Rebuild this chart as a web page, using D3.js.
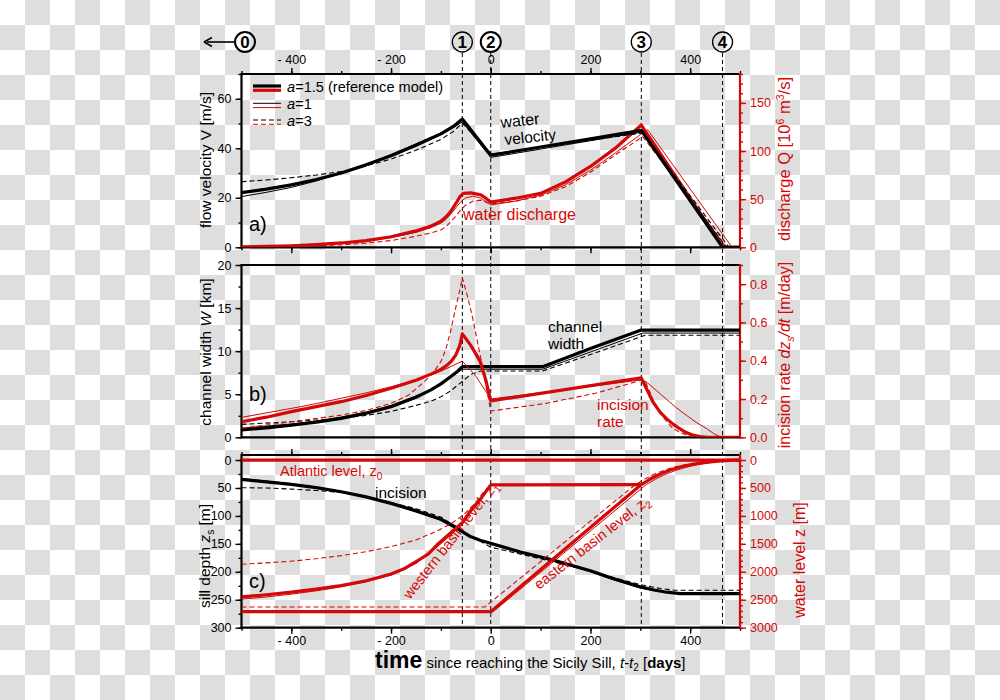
<!DOCTYPE html>
<html><head><meta charset="utf-8">
<script src="https://cdn.jsdelivr.net/npm/d3@7"></script>
<style>body{margin:0;background:#fff} text{font-family:"Liberation Sans",Arial,sans-serif}</style>
</head><body><svg id="c" width="1000" height="700"></svg>
<script>
// ---------- DATA (day, value) ----------
const dayTicks = [-400, -200, 0, 200, 400];
const eventDays = [-57, 0, 302, 465];
const eventLabels = ["1", "2", "3", "4"];
const velTicks = [0, 20, 40, 60];
const qTicks = [0, 50, 100, 150];
const widthTicks = [0, 5, 10, 15, 20];
const rateTicks = [0, 0.2, 0.4, 0.6, 0.8];
const depthTicks = [0, 50, 100, 150, 200, 250, 300];
const levelTicks = [0, 500, 1000, 1500, 2000, 2500, 3000];

// panel a: flow velocity [m/s]
const velRef = [[-500,22.1],[-450,23.5],[-400,25.2],[-350,27.4],[-300,30],[-250,33.3],[-200,37],[-150,41.2],[-100,45.8],[-75,48.8],[-57,51.8],[0,37.2],[100,40.5],[200,43.8],[302,47.2],[465,0],[500,0]];
const velA1 = [[-500,20.5],[-450,22.2],[-400,24.2],[-350,26.8],[-300,29.8],[-250,33.4],[-200,37.5],[-150,41.8],[-100,46.2],[-75,48.5],[-57,50.6],[0,36.3],[302,46.5],[472,0],[500,0]];
const velA3 = [[-500,26.5],[-450,27.2],[-400,28.1],[-350,29.2],[-300,30.6],[-250,32.9],[-200,35.6],[-150,39.2],[-100,43.6],[-75,46.8],[-57,50.2],[0,37.6],[305,46.2],[478,0],[500,0]];
// panel a: discharge [10^6 m3/s]
const qRef = [[-500,0.5],[-450,0.9],[-400,1.6],[-350,2.8],[-300,4.5],[-250,7],[-200,11],[-150,17],[-120,22],[-100,27],[-90,31.5],[-80,37.5],[-70,45.5],[-62,52.5],[-55,56],[-40,56.5],[-20,54.5],[-10,51],[0,47],[50,51],[100,56],[150,68],[200,84],[250,103],[302,127],[466,0],[500,0]];
const qA1 = [[-500,0.3],[-400,1.2],[-300,3.8],[-250,6.2],[-200,10],[-150,15.5],[-120,20.5],[-100,25],[-90,29],[-80,34.5],[-70,41],[-60,47.5],[-50,51.5],[-35,53],[-20,51],[0,44],[50,48],[100,54],[150,65],[200,80],[250,98],[300,117],[315,122],[484,0],[500,0]];
const qA3 = [[-500,0.2],[-400,0.8],[-300,2.5],[-250,4.3],[-200,7],[-150,11.5],[-120,14.8],[-100,18],[-90,21.5],[-80,26.5],[-70,32.5],[-60,39],[-50,44],[-35,48],[-20,49],[0,45],[50,48],[100,53],[150,63],[200,78],[250,96],[305,115],[474,0],[500,0]];

// panel b: channel width [km]
const wRef = [[-500,0.85],[-450,1.1],[-400,1.4],[-350,1.75],[-300,2.2],[-250,2.8],[-200,3.55],[-150,4.65],[-120,5.5],[-100,6.2],[-80,7.05],[-67,7.65],[-57,8.2],[104,8.2],[200,10.3],[302,12.45],[500,12.45]];
const wA1 = [[-500,1.05],[-450,1.3],[-400,1.55],[-350,1.9],[-300,2.35],[-250,2.9],[-200,3.7],[-150,4.8],[-120,5.5],[-100,6.15],[-80,6.95],[-57,7.9],[104,7.9],[200,9.9],[305,12.1],[500,12.1]];
const wA3 = [[-500,1.5],[-450,1.65],[-400,1.8],[-350,2.0],[-300,2.2],[-250,2.55],[-200,3.0],[-150,3.7],[-120,4.2],[-100,4.7],[-80,5.4],[-57,6.5],[-40,7.3],[-20,7.7],[104,7.7],[200,9.6],[310,11.85],[500,11.85]];
// panel b: incision rate [m/day]
const rateRef = [[-500,0.081],[-450,0.105],[-400,0.134],[-350,0.16],[-300,0.186],[-250,0.218],[-200,0.256],[-150,0.298],[-120,0.33],[-100,0.355],[-90,0.372],[-80,0.395],[-70,0.43],[-62,0.48],[-57,0.54],[-40,0.48],[-21,0.395],[-10,0.3],[0,0.19],[302,0.31],[315,0.24],[325,0.186],[340,0.13],[352,0.099],[365,0.07],[378,0.047],[392,0.025],[405,0.012],[420,0.004],[435,0],[500,0]];
const rateA1 = [[-500,0.104],[-400,0.151],[-350,0.176],[-300,0.204],[-250,0.232],[-200,0.264],[-150,0.3],[-120,0.325],[-100,0.345],[-80,0.37],[-57,0.398],[-30,0.32],[0,0.2],[302,0.3],[312,0.29],[332,0.245],[352,0.2],[372,0.155],[392,0.116],[412,0.078],[432,0.047],[447,0.02],[459,0.004],[466,0],[500,0]];
const rateA3 = [[-500,0.047],[-400,0.081],[-300,0.116],[-250,0.14],[-200,0.177],[-165,0.22],[-133,0.29],[-115,0.34],[-100,0.395],[-90,0.46],[-80,0.56],[-70,0.68],[-62,0.77],[-57,0.833],[-46,0.73],[-36,0.62],[-26,0.49],[-16,0.36],[0,0.137],[110,0.177],[210,0.23],[305,0.3],[312,0.28],[325,0.2],[338,0.134],[352,0.085],[365,0.047],[380,0.025],[392,0.012],[410,0],[500,0]];

// panel c: water levels [m]
const atlantic = [[-500,0],[500,0]];
const westRef = [[-500,2450],[-450,2410],[-400,2365],[-350,2310],[-300,2245],[-250,2160],[-200,2040],[-175,1950],[-150,1820],[-125,1680],[-108,1520],[-80,1300],[-57,1120],[-40,900],[-20,690],[0,445],[302,440]];
const westA1 = [[-500,2490],[-450,2450],[-400,2400],[-350,2340],[-300,2270],[-250,2180],[-200,2060],[-150,1850],[-108,1560],[-80,1340],[-57,1150],[-40,940],[-20,720],[0,445],[302,440]];
const westA3 = [[-500,1865],[-450,1840],[-400,1810],[-350,1765],[-300,1710],[-250,1640],[-200,1550],[-150,1430],[-108,1270],[-80,1140],[-55,985],[-30,760],[-15,580],[0,445]];
const eastRef = [[-500,2713],[0,2713],[302,438],[320,340],[340,250],[360,180],[380,125],[400,85],[420,55],[440,32],[460,16],[480,6],[500,0]];
const eastA1 = [[-500,2713],[5,2713],[312,440],[330,345],[350,258],[370,190],[390,135],[410,92],[430,60],[450,36],[470,18],[490,6],[500,2]];
const eastA3 = [[-500,2630],[-12,2630],[290,440],[310,335],[330,245],[350,178],[370,123],[390,83],[410,53],[430,30],[450,15],[470,5],[500,0]];
// panel c: sill depth [m]
const sillRef = [[-500,34.6],[-450,39],[-400,43.5],[-350,49.5],[-300,56.7],[-250,66],[-200,77.5],[-150,91],[-100,106],[-75,118],[-57,128],[-41,137],[-20,144],[0,149],[58,164],[125,179],[200,198],[245,212],[300,227],[330,233],[353,236.5],[380,239],[500,239]];
const sillA1 = [[-500,33],[-400,42.5],[-300,56],[-200,78],[-150,92],[-100,108],[-57,130],[0,151],[58,166],[125,181],[200,200],[245,214],[300,229],[330,234],[360,237],[390,238],[500,238]];
const sillA3 = [[-500,49.5],[-450,50],[-400,52],[-350,54.5],[-300,58],[-250,66],[-200,76],[-150,87],[-100,102],[-57,127],[0,156],[58,168],[125,182],[200,198],[245,210],[300,223],[340,230],[370,233],[500,233]];

// ---------- DRAWING ----------
const RED = "#d40808";
const svg = d3.select("#c");
const defs = svg.append("defs");
const pat = defs.append("pattern").attr("id","chk").attr("width",50).attr("height",50).attr("patternUnits","userSpaceOnUse");
pat.append("rect").attr("width",50).attr("height",50).attr("fill","#ffffff");
pat.append("rect").attr("x",25).attr("y",0).attr("width",25).attr("height",25).attr("fill","#dedede");
pat.append("rect").attr("x",0).attr("y",25).attr("width",25).attr("height",25).attr("fill","#dedede");
svg.append("rect").attr("width",1000).attr("height",700).attr("fill","url(#chk)");

const X0 = 241.5, X1 = 740;
const x = d3.scaleLinear().domain([-500,500]).range([X0,X1]);
const panels = [
  {id:"a", top:74, bot:247.3},
  {id:"b", top:265, bot:437.3},
  {id:"c", top:455, bot:627.7}
];
const yV = d3.scaleLinear().domain([0,70]).range([247.3,74]);
const yQ = d3.scaleLinear().domain([0,180]).range([247.3,74]);
const yW = d3.scaleLinear().domain([0,20]).range([437.3,265]);
const yR = d3.scaleLinear().domain([0,0.9]).range([437.3,265]);
const yS = d3.scaleLinear().domain([-9,300]).range([455,627.7]);
const yZ = d3.scaleLinear().domain([-90,3000]).range([455,627.7]);

panels.forEach(p=>{
  defs.append("clipPath").attr("id","clip"+p.id).append("rect")
    .attr("x",X0).attr("y",p.top).attr("width",X1-X0).attr("height",p.bot-p.top);
});

const fmtDay = d => d < 0 ? "- " + Math.abs(d) : String(d);
const minorDays = d3.range(-500, 501, 100);

function styleAxis(g, color){
  g.select(".domain").remove();
  g.selectAll(".tick line").attr("stroke",color).attr("stroke-width",1.4);
  g.selectAll(".tick text").attr("fill",color).style("font-size","12.5px").style("font-family","'Liberation Sans',Arial,sans-serif");
}
function axis(gen, transform, color){
  const g = svg.append("g").attr("transform",transform).call(gen);
  styleAxis(g, color);
  return g;
}

// x axes
axis(d3.axisTop(x).tickValues(minorDays).tickSize(3).tickFormat(""), `translate(0,${panels[0].top})`, "#000");
axis(d3.axisTop(x).tickValues(dayTicks).tickSize(6).tickPadding(4).tickFormat(fmtDay), `translate(0,${panels[0].top})`, "#000");
axis(d3.axisBottom(x).tickValues(minorDays).tickSize(3).tickFormat(""), `translate(0,${panels[0].bot})`, "#000");
axis(d3.axisBottom(x).tickValues(dayTicks).tickSize(6).tickFormat(""), `translate(0,${panels[0].bot})`, "#000");
axis(d3.axisTop(x).tickValues(minorDays).tickSize(3).tickFormat(""), `translate(0,${panels[2].top})`, "#000");
axis(d3.axisTop(x).tickValues(dayTicks).tickSize(6).tickFormat(""), `translate(0,${panels[2].top})`, "#000");
axis(d3.axisBottom(x).tickValues(minorDays).tickSize(3).tickFormat(""), `translate(0,${panels[2].bot})`, "#000");
axis(d3.axisBottom(x).tickValues(dayTicks).tickSize(6).tickPadding(2).tickFormat(fmtDay), `translate(0,${panels[2].bot})`, "#000");

// y axes
function yAxes(scale, major, minor, fmt, side, color){
  const xpos = side === "left" ? X0 : X1;
  const mk = side === "left" ? d3.axisLeft : d3.axisRight;
  axis(mk(scale).tickValues(minor).tickSize(3).tickFormat(""), `translate(${xpos},0)`, color);
  axis(mk(scale).tickValues(major).tickSize(6).tickPadding(4).tickFormat(fmt), `translate(${xpos},0)`, color);
}
yAxes(yV, velTicks, d3.range(0,71,10), d3.format("d"), "left", "#000");
yAxes(yQ, qTicks, d3.range(0,181,10), d3.format("d"), "right", RED);
yAxes(yW, widthTicks, d3.range(0,20.1,2.5), d3.format("d"), "left", "#000");
yAxes(yR, rateTicks, d3.range(0,0.91,0.1), d3.format(".1f"), "right", RED);
yAxes(yS, depthTicks, d3.range(0,301,25), d3.format("d"), "left", "#000");
yAxes(yZ, levelTicks, d3.range(0,3001,100), d3.format("d"), "right", RED);

// frames
panels.forEach(p=>{
  const f = svg.append("g");
  f.append("line").attr("x1",X0).attr("x2",X1).attr("y1",p.top).attr("y2",p.top).attr("stroke","#000").attr("stroke-width",2.2);
  f.append("line").attr("x1",X0).attr("x2",X1).attr("y1",p.bot).attr("y2",p.bot).attr("stroke","#000").attr("stroke-width",2.2);
  f.append("line").attr("x1",X0).attr("x2",X0).attr("y1",p.top-1).attr("y2",p.bot+1).attr("stroke","#000").attr("stroke-width",2.2);
  f.append("line").attr("x1",X1).attr("x2",X1).attr("y1",p.top-1).attr("y2",p.bot+1).attr("stroke",RED).attr("stroke-width",2.2);
});

// event dashed lines
svg.selectAll(".ev").data(eventDays).enter().append("line")
  .attr("x1",d=>x(d)).attr("x2",d=>x(d)).attr("y1",53).attr("y2",panels[2].bot)
  .attr("stroke","#000").attr("stroke-width",1).attr("stroke-dasharray","4,3");

// circled labels
const circ = [{cx:245, t:"0", bold:true}].concat(eventDays.map((d,i)=>({cx:x(d), t:eventLabels[i], bold:i===1})));
circ.forEach(c=>{
  svg.append("circle").attr("cx",c.cx).attr("cy",42).attr("r",10).attr("fill","none").attr("stroke","#000").attr("stroke-width",c.bold?2:1.3);
  svg.append("text").attr("x",c.cx).attr("y",48).attr("text-anchor","middle").style("font-size","17px").style("font-weight","bold").text(c.t);
});
svg.append("line").attr("x1",234).attr("x2",207).attr("y1",42).attr("y2",42).attr("stroke","#000").attr("stroke-width",1.6);
svg.append("path").attr("d","M204,42 L212,37.5 M204,42 L212,46.5").attr("stroke","#000").attr("stroke-width",1.6).attr("fill","none");

// series
const styles = {
  thick:{w:3.2, dash:null},
  thin:{w:1, dash:null},
  dash:{w:1.1, dash:"5,3"}
};
function draw(data, ys, st, color, clip){
  svg.append("path").datum(data)
    .attr("clip-path",`url(#clip${clip})`)
    .attr("d", d3.line().x(d=>x(d[0])).y(d=>ys(d[1])))
    .attr("fill","none").attr("stroke",color)
    .attr("stroke-width",styles[st].w)
    .attr("stroke-dasharray",styles[st].dash)
    .attr("stroke-linejoin","round");
}
// panel a
draw(qA3, yQ, "dash", RED, "a"); draw(qA1, yQ, "thin", RED, "a"); draw(qRef, yQ, "thick", RED, "a");
draw(velA3, yV, "dash", "#000", "a"); draw(velA1, yV, "thin", "#000", "a"); draw(velRef, yV, "thick", "#000", "a");
// panel b
draw(wA3, yW, "dash", "#000", "b"); draw(wA1, yW, "thin", "#000", "b"); draw(wRef, yW, "thick", "#000", "b");
draw(rateA3, yR, "dash", RED, "b"); draw(rateA1, yR, "thin", RED, "b"); draw(rateRef, yR, "thick", RED, "b");
// panel c
draw(sillA3, yS, "dash", "#000", "c"); draw(sillA1, yS, "thin", "#000", "c"); draw(sillRef, yS, "thick", "#000", "c");
draw(atlantic, yZ, "thick", RED, "c");
draw(westA3, yZ, "dash", RED, "c"); draw(westA1, yZ, "thin", RED, "c"); draw(westRef, yZ, "thick", RED, "c");
draw(eastA3, yZ, "dash", RED, "c"); draw(eastA1, yZ, "thin", RED, "c"); draw(eastRef, yZ, "thick", RED, "c");

// legend
const leg = [
  {st:"thick", y:86, label:"=1.5 (reference model)"},
  {st:"thin", y:103.3, label:"=1"},
  {st:"dash", y:120, label:"=3"}
];
leg.forEach(l=>{
  [["#000",0],[RED,4.3]].forEach(([c,o])=>{
    svg.append("line").attr("x1",253).attr("x2",281).attr("y1",l.y+o).attr("y2",l.y+o)
      .attr("stroke",c).attr("stroke-width",styles[l.st].w).attr("stroke-dasharray",styles[l.st].dash);
  });
  const t = svg.append("text").attr("x",287).attr("y",l.y+6).style("font-size","14.6px");
  t.append("tspan").style("font-style","italic").text("a");
  t.append("tspan").text(l.label);
});

// annotation helper
function label(txt, xx, yy, opts={}){
  const t = svg.append("text").attr("x",xx).attr("y",yy)
    .style("font-size",(opts.size||15.5)+"px").attr("fill",opts.color||"#000");
  if (opts.rot) t.attr("transform",`rotate(${opts.rot},${xx},${yy})`);
  if (opts.anchor) t.attr("text-anchor",opts.anchor);
  t.append("tspan").text(txt);
  return t;
}
label("water", 501, 128, {rot:-6, size:16});
label("velocity", 505, 145, {rot:-6});
label("water discharge", 463, 220, {color:RED, size:16});
label("a)", 249, 231, {size:20});
label("b)", 249, 401, {size:20});
label("c)", 249, 588, {size:20});
label("channel", 548, 332);
label("width", 548, 349);
label("incision", 597, 410, {color:RED});
label("rate", 597, 427, {color:RED});
{ const t = label("Atlantic level, ", 280, 476, {color:RED, size:14.5});
  t.append("tspan").text("z"); t.append("tspan").attr("dy",4).style("font-size","10px").text("0"); }
label("incision", 375, 498);
{ const t = label("western basin level, ", 410, 600, {color:RED, size:14.5, rot:-52});
  t.append("tspan").text("z"); t.append("tspan").attr("dy",4).style("font-size","10px").text("1"); }
{ const t = label("eastern basin level, ", 539, 590, {color:RED, size:14.5, rot:-38});
  t.append("tspan").text("z"); t.append("tspan").attr("dy",4).style("font-size","10px").text("2"); }

// axis titles
function vtitle(xx, yy, color, parts, fs){
  const t = svg.append("text").attr("transform",`translate(${xx},${yy}) rotate(-90)`)
    .attr("text-anchor","middle").attr("fill",color).style("font-size",(fs||15.5)+"px");
  parts.forEach(p=>{
    const s = t.append("tspan").text(p.t);
    if (p.i) s.style("font-style","italic");
    if (p.dy) s.attr("dy",p.dy);
    if (p.fs) s.style("font-size",p.fs);
  });
}
vtitle(211, 160, "#000", [{t:"flow velocity V [m/s]"}]);
vtitle(211, 352, "#000", [{t:"channel width "},{t:"W",i:1},{t:" [km]"}]);
vtitle(210, 556, "#000", [{t:"sill depth "},{t:"z",i:1},{t:"s",dy:4,fs:"10px"},{t:" [m]",dy:-4}]);
vtitle(790, 159, RED, [{t:"discharge Q [10"},{t:"6",dy:-6,fs:"10.5px"},{t:" m",dy:6},{t:"3",dy:-6,fs:"10.5px"},{t:"/s]",dy:6}], 16.5);
vtitle(790, 355, RED, [{t:"incision rate "},{t:"dz",i:1},{t:"s",dy:4,fs:"10px",i:1},{t:"/dt",i:1,dy:-4},{t:" [m/day]"}], 16);
vtitle(805, 560, RED, [{t:"water level z [m]"}], 16);

// x title
{
  const t = svg.append("text").attr("x",375).attr("y",668).style("font-size","15px");
  t.append("tspan").style("font-size","23px").style("font-weight","bold").text("time");
  t.append("tspan").text(" since reaching the Sicily Sill, ");
  t.append("tspan").style("font-style","italic").text("t-t");
  t.append("tspan").attr("dy",3).style("font-size","10px").text("2");
  t.append("tspan").attr("dy",-3).text(" [");
  t.append("tspan").style("font-weight","bold").text("days");
  t.append("tspan").text("]");
}
</script></body></html>
